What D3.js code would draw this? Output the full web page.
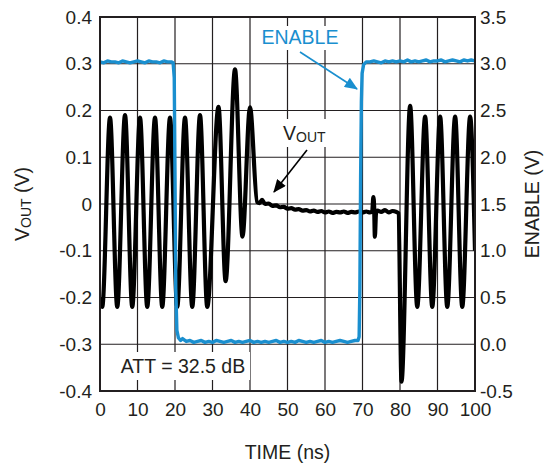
<!DOCTYPE html>
<html>
<head>
<meta charset="utf-8">
<script src="https://cdn.jsdelivr.net/npm/d3@7"></script>
<style>
  body { margin: 0; background: #fff; }
  svg { display: block; font-family: 'Liberation Sans', Arial, sans-serif; }
  .axis text { font-size: 19px; fill: #231f20; }
  .axis path, .axis line { display: none; }
</style>
</head>
<body>
<svg id="chart" width="545" height="464"></svg>
<script>
// tick values
const TIME_TICKS = [0, 10, 20, 30, 40, 50, 60, 70, 80, 90, 100]
const VOUT_TICKS = [-0.4, -0.3, -0.2, -0.1, 0, 0.1, 0.2, 0.3, 0.4]
const ENABLE_TICKS = [-0.5, 0, 0.5, 1.0, 1.5, 2.0, 2.5, 3.0, 3.5]

// VOUT trace (ns, V)
const voutTime = [
  0, 0.6, 2.67, 4.6, 6.67, 8.6, 10.67, 12.6, 14.67, 16.6, 18.67, 20.6, 22.67, 24.6,
  26.67, 28.6, 31.6, 33.5, 36.0, 38.0, 40.0,
  41.9, 42.6, 43.2, 44, 45, 46, 47, 48, 49, 50, 51, 52, 53, 54, 55, 56, 57, 58, 59,
  60, 61, 62, 63, 64, 65, 66, 67, 68, 69, 70, 71, 72, 72.6, 72.9, 73.1, 73.3, 73.6,
  74, 75, 76, 77, 78, 79, 79.6,
  80.4, 82.7, 84.6, 86.7, 88.6, 90.7, 92.6, 94.7, 96.6, 98.7, 100,
]
const voutValue = [
  -0.20, -0.22, 0.185, -0.22, 0.19, -0.22, 0.185, -0.22, 0.185, -0.22, 0.185, -0.22, 0.185, -0.22,
  0.19, -0.22, 0.208, -0.165, 0.288, -0.07, 0.207,
  0.004, 0.002, 0.009, 0.0, 0.001, -0.004, -0.003, -0.007, -0.006, -0.010, -0.009, -0.012, -0.011, -0.014, -0.013, -0.016, -0.014, -0.017, -0.015,
  -0.018, -0.016, -0.019, -0.017, -0.018, -0.016, -0.019, -0.017, -0.018, -0.016, -0.018, -0.016, -0.018, -0.015, 0.015, -0.005, -0.07, -0.02,
  -0.014, -0.017, -0.013, -0.018, -0.015, -0.017, -0.02,
  -0.38, 0.21, -0.22, 0.187, -0.22, 0.187, -0.22, 0.187, -0.22, 0.187, -0.10,
]

// ENABLE trace (ns, V)
const enableTime = [
  0, 1, 2, 3, 4, 5, 6, 7, 8, 9, 10, 11, 12, 13, 14, 15, 16, 17, 18, 19,
  19.5, 19.8, 20.0, 20.2, 20.5, 20.9, 21.5, 22,
  23, 24, 25, 26, 27, 28, 29, 30, 31, 32, 33, 34, 35, 36, 37, 38, 39, 40, 41, 42, 43, 44, 45,
  46, 47, 48, 49, 50, 51, 52, 53, 54, 55, 56, 57, 58, 59, 60, 61, 62, 63, 64, 65, 66, 67, 68,
  68.8, 69.1, 69.3, 69.5, 69.7, 69.9, 70.3, 71,
  72, 73, 74, 75, 76, 77, 78, 79, 80, 81, 82, 83, 84, 85, 86, 87, 88, 89, 90, 91, 92, 93,
  94, 95, 96, 97, 98, 99, 100,
]
const enableValue = [
  3.02, 3.01, 3.03, 3.02, 3.02, 3.01, 3.03, 3.02, 3.01, 3.02, 3.03, 3.02, 3.01, 3.03, 3.02, 3.02, 3.01, 3.03, 3.02, 3.02,
  3.01, 2.85, 1.8, 0.6, 0.15, 0.07, 0.04, 0.06,
  0.03, 0.04, 0.02, 0.03, 0.04, 0.02, 0.03, 0.02, 0.04, 0.03, 0.02, 0.03, 0.04, 0.02, 0.03, 0.02, 0.03, 0.04, 0.02, 0.03, 0.02, 0.03, 0.02,
  0.03, 0.04, 0.02, 0.03, 0.02, 0.03, 0.02, 0.04, 0.03, 0.02, 0.03, 0.02, 0.03, 0.04, 0.02, 0.03, 0.02, 0.03, 0.04, 0.03, 0.02, 0.03, 0.04,
  0.04, 0.08, 0.6, 1.8, 2.6, 2.9, 2.99, 3.02,
  3.02, 3.03, 3.02, 3.01, 3.03, 3.02, 3.03, 3.02, 3.03, 3.02, 3.04, 3.02, 3.03, 3.02, 3.03, 3.04, 3.02, 3.03, 3.03, 3.04, 3.02, 3.03,
  3.04, 3.03, 3.02, 3.04, 3.03, 3.04, 3.03,
]

const BLUE = '#1a8fcf'
const INK = '#231f20'

const svg = d3.select('#chart')
const margins = {top: 17, right: 70, bottom: 73, left: 100}
const width = 545 - margins.left - margins.right
const height = 464 - margins.top - margins.bottom

const g = svg.append('g')
  .attr('transform', `translate(${margins.left}, ${margins.top})`)

const x = d3.scaleLinear().domain([0, 100]).range([0, width])
const yL = d3.scaleLinear().domain([-0.4, 0.4]).range([height, 0])
const yR = d3.scaleLinear().domain([-0.5, 3.5]).range([height, 0])

svg.append('defs')
  .append('clipPath').attr('id', 'plot-clip')
  .append('rect').attr('width', width).attr('height', height)

// grid
g.append('g').selectAll('line').data(TIME_TICKS.slice(1, -1)).enter()
  .append('line')
  .attr('x1', (d) => x(d)).attr('x2', (d) => x(d))
  .attr('y1', 0).attr('y2', height)
  .attr('stroke', INK).attr('stroke-width', 1.2)
g.append('g').selectAll('line').data(VOUT_TICKS.slice(1, -1)).enter()
  .append('line')
  .attr('y1', (d) => yL(d)).attr('y2', (d) => yL(d))
  .attr('x1', 0).attr('x2', width)
  .attr('stroke', INK).attr('stroke-width', 1.2)

// axes
g.append('g').attr('class', 'axis')
  .call(d3.axisLeft(yL).tickValues(VOUT_TICKS).tickSize(0).tickPadding(8)
    .tickFormat((d) => (d === 0 ? '0' : d.toFixed(1))))
g.append('g').attr('class', 'axis')
  .attr('transform', `translate(${width}, 0)`)
  .call(d3.axisRight(yR).tickValues(ENABLE_TICKS).tickSize(0).tickPadding(5)
    .tickFormat((d) => d.toFixed(1)))
g.append('g').attr('class', 'axis')
  .attr('transform', `translate(0, ${height})`)
  .call(d3.axisBottom(x).tickValues(TIME_TICKS).tickSize(0).tickPadding(12)
    .tickFormat((d) => String(d)))

// annotation label boxes (white behind text, over grid)
function labelBox(bx, by, bw, bh) {
  g.append('rect').attr('x', bx - margins.left).attr('y', by - margins.top)
    .attr('width', bw).attr('height', bh).attr('fill', '#fff')
}
labelBox(258, 26, 84, 24)
labelBox(279, 119, 58, 28)
labelBox(116, 352, 134, 28)

// traces
const plot = g.append('g').attr('clip-path', 'url(#plot-clip)')

const voutLine = d3.line()
  .x((d) => x(d[0]))
  .y((d) => yL(d[1]))
  .curve(d3.curveMonotoneX)
plot.append('path')
  .datum(d3.zip(voutTime, voutValue))
  .attr('fill', 'none')
  .attr('stroke', '#000')
  .attr('stroke-width', 4.2)
  .attr('stroke-linejoin', 'round')
  .attr('d', voutLine)

const enableLine = d3.line()
  .x((d) => x(d[0]))
  .y((d) => yR(d[1]))
plot.append('path')
  .datum(d3.zip(enableTime, enableValue))
  .attr('fill', 'none')
  .attr('stroke', BLUE)
  .attr('stroke-width', 3.4)
  .attr('stroke-linejoin', 'round')
  .attr('d', enableLine)

// frame
g.append('rect')
  .attr('width', width).attr('height', height)
  .attr('fill', 'none').attr('stroke', INK).attr('stroke-width', 2)

// arrows
const defs = svg.select('defs')
function addMarker(id, color) {
  defs.append('marker')
    .attr('id', id)
    .attr('viewBox', '0 0 12 10')
    .attr('refX', 11).attr('refY', 5)
    .attr('markerWidth', 14).attr('markerHeight', 11)
    .attr('markerUnits', 'userSpaceOnUse')
    .attr('orient', 'auto')
    .append('path').attr('d', 'M0,0 L12,5 L0,10 Z').attr('fill', color)
}
addMarker('arrow-blue', BLUE)
addMarker('arrow-black', '#000')

svg.append('line')
  .attr('x1', 300).attr('y1', 52).attr('x2', 357).attr('y2', 89)
  .attr('stroke', BLUE).attr('stroke-width', 1.6)
  .attr('marker-end', 'url(#arrow-blue)')
svg.append('line')
  .attr('x1', 307).attr('y1', 150).attr('x2', 274).attr('y2', 192)
  .attr('stroke', '#000').attr('stroke-width', 1.6)
  .attr('marker-end', 'url(#arrow-black)')

// texts
svg.append('text')
  .attr('x', 300).attr('y', 44)
  .attr('text-anchor', 'middle')
  .attr('font-size', 19.5).attr('fill', BLUE)
  .text('ENABLE')

const voutLabel = svg.append('text')
  .attr('x', 283).attr('y', 140)
  .attr('font-size', 19.5).attr('fill', INK)
voutLabel.append('tspan').text('V')
voutLabel.append('tspan').attr('font-size', 14).attr('dy', 2).text('OUT')

svg.append('text')
  .attr('x', 183).attr('y', 373)
  .attr('text-anchor', 'middle')
  .attr('font-size', 19.5).attr('fill', INK)
  .text('ATT = 32.5 dB')

svg.append('text')
  .attr('x', margins.left + width / 2).attr('y', 459)
  .attr('text-anchor', 'middle')
  .attr('font-size', 19.5).attr('fill', INK)
  .text('TIME (ns)')

const leftTitle = svg.append('text')
  .attr('transform', `translate(29, ${margins.top + height / 2}) rotate(-90)`)
  .attr('text-anchor', 'middle')
  .attr('font-size', 19.5).attr('fill', INK)
leftTitle.append('tspan').text('V')
leftTitle.append('tspan').attr('font-size', 14).attr('dy', 2).text('OUT')
leftTitle.append('tspan').attr('dy', -2).text(' (V)')

svg.append('text')
  .attr('transform', `translate(539, ${margins.top + height / 2}) rotate(-90)`)
  .attr('text-anchor', 'middle')
  .attr('font-size', 19.5).attr('fill', INK)
  .text('ENABLE (V)')
</script>
</body>
</html>
